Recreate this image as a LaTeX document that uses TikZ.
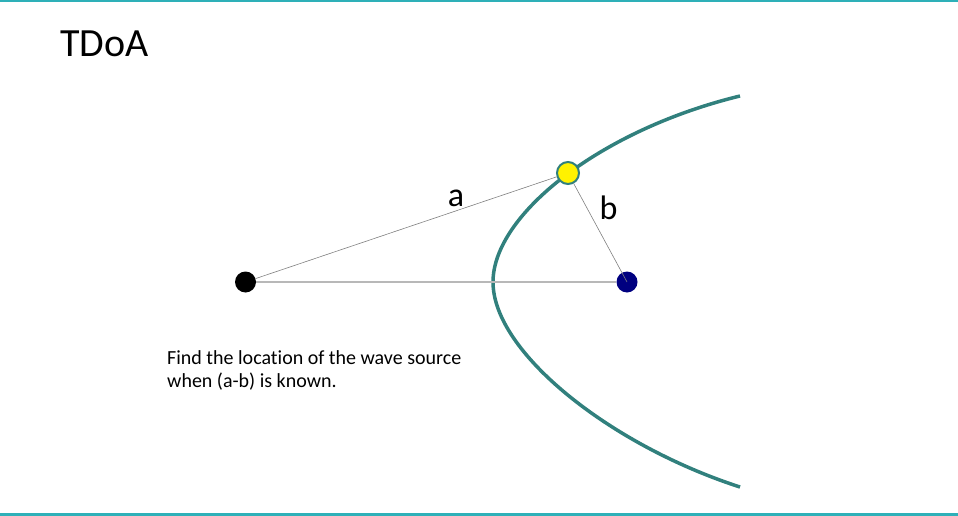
\documentclass[tikz,border=0pt]{standalone}
\usepackage{fontspec}
\setmainfont{Carlito}[Ligatures=NoCommon]
\usetikzlibrary{positioning}
\definecolor{slideline}{RGB}{46,176,184}
\definecolor{curveteal}{RGB}{49,128,125}
\definecolor{rxnavy}{RGB}{0,0,128}
\tikzset{
  receiver/.style={
    circle, inner sep=0pt, minimum size=21pt, fill=#1
  },
  emitter/.style={
    circle, inner sep=0pt, minimum size=22pt,
    fill=yellow, draw=curveteal, line width=2pt
  },
  rangeline/.style={draw=black!50, line width=0.6pt},
  sensorline/.style={draw=black!28, line width=1.2pt},
  dist/.style={font=\fontsize{34}{40}\selectfont, anchor=base}
}
\begin{document}
\begin{tikzpicture}[x=1pt, y=-1pt]
  \useasboundingbox (0,0) rectangle (958,516);
  \draw[slideline, line width=2pt] (0,1) -- (958,1);
  \draw[slideline, line width=2.5pt] (0,514.5) -- (958,514.5);

  \node[anchor=base west, inner sep=0pt, font=\fontsize{40}{48}\selectfont] (title) at (60,57) {TDoA};

  % hyperbola branch
  \draw[curveteal, line width=3.5pt] (740,96) .. controls (600,130) and (493,215) .. (493,282)
    .. controls (493,352) and (610,445) .. (740,487);

  \node[receiver=black] (rxa) at (245.5,282) {};
  \node[receiver=rxnavy] (rxb) at (627,282) {};
  \node[emitter] (src) at (568,173) {};

  \draw[sensorline] (rxa) -- (rxb);
  \draw[rangeline] (rxa) -- (src);
  \draw[rangeline] (src) -- (rxb.center);

  \node[dist] (la) at (456,206) {a};
  \node[dist] (lb) at (608.5,219) {b};

  \node[anchor=base west, inner sep=0pt, align=left, font=\fontsize{20}{23}\selectfont] (note) at (167,387)
    {Find the location of the wave source\\when (a-b) is known.};
\end{tikzpicture}
\end{document}
